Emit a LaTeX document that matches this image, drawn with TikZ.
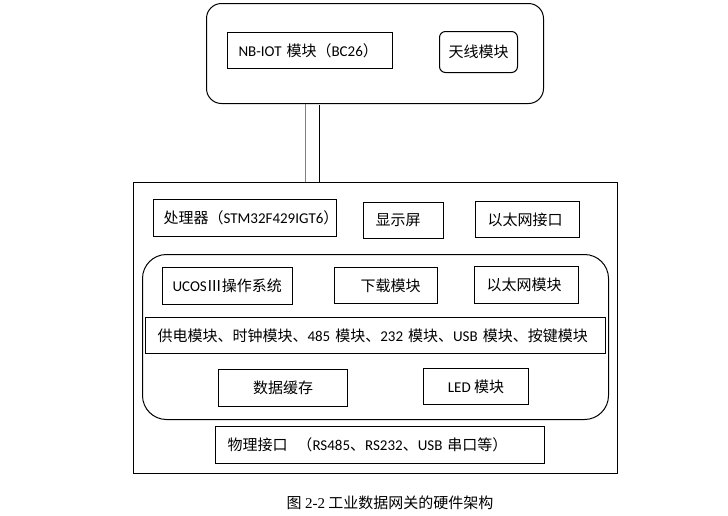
\documentclass[tikz,border=0pt]{standalone}
\usepackage{fontspec}
\setmainfont{Carlito}
\newfontfamily\cjk{Noto Sans CJK SC}
\newfontfamily\capserif{Liberation Serif}
\newcommand\zh[1]{{\cjk #1}}
\begin{document}
\begin{tikzpicture}[x=1pt, y=-1pt,
		frame/.style={draw, line width=1pt, anchor=north west, inner sep=0pt},
		box/.style={frame, align=left, font=\fontsize{15pt}{18pt}\selectfont},
		mid/.style={box, align=center}]
		\useasboundingbox (0,0) rectangle (728,515);
		
		% gateway with the NB-IOT part on top
		\node[frame, rounded corners=15pt, minimum width=337pt, minimum height=100pt] (gw) at (206,3) {};
		\node[box, minimum width=165pt, minimum height=36pt, text width=143pt] (nbiot) at (227,32) {NB-IOT \zh{模块（}BC26\zh{）}};
		\node[mid, rounded corners=6pt, minimum width=78pt, minimum height=41pt] (antenna) at (439,31) {\zh{天线模块}};
		
		% main board
		\node[frame, minimum width=484pt, minimum height=291pt] (board) at (133,182) {};
		\node[box, minimum width=183pt, minimum height=37pt, text width=163pt] (cpu) at (153,199) {\zh{处理器（}STM32F429IGT6\zh{）}};
		\node[box, minimum width=80pt, minimum height=36pt, text width=56pt] (lcd) at (363,202) {\zh{显示屏}};
		\node[box, minimum width=104pt, minimum height=36pt, text width=80pt] (ethport) at (475,201) {\zh{以太网接口}};
		
		\node[frame, rounded corners=24pt, minimum width=466pt, minimum height=165pt] (soft) at (142,254) {};
		\node[box, minimum width=130pt, minimum height=37pt, text width=110pt] (ucos) at (162,267) {UCOS\zh{Ⅲ操作系统}};
		\node[box, minimum width=103pt, minimum height=36pt, text width=51pt] (download) at (334,267) {\zh{下载模块}};
		\node[box, minimum width=104pt, minimum height=37pt, text width=80pt] (ethmod) at (474,266) {\zh{以太网模块}};
		\node[box, minimum width=460pt, minimum height=36pt, text width=436pt] (power) at (145,317) {\zh{供电模块、时钟模块、}485 \zh{模块、}232 \zh{模块、}USB \zh{模块、按键模块}};
		\node[mid, minimum width=129pt, minimum height=37pt] (cache) at (218,369) {\zh{数据缓存}};
		\node[mid, minimum width=105pt, minimum height=36pt] (led) at (423,368) {LED \zh{模块}};
		
		\node[box, minimum width=329pt, minimum height=37pt, text width=305pt] (phy) at (215,426) {\zh{物理接口}\hspace{10pt}\zh{（}RS485\zh{、}RS232\zh{、}USB \zh{串口等）}};
		
		% link between the two parts
		\draw[gray, line width=1pt] (305.5,0 |- gw.south) -- (305.5,0 |- board.north);
		\draw[line width=1pt] (319,105) -- (319,0 |- board.north);
		
		\node[font=\fontsize{15pt}{18pt}\selectfont] (caption) at (390,503) {\zh{图 }\capserif 2-2\zh{ 工业数据网关的硬件架构}};
	\end{tikzpicture}
\end{document}
